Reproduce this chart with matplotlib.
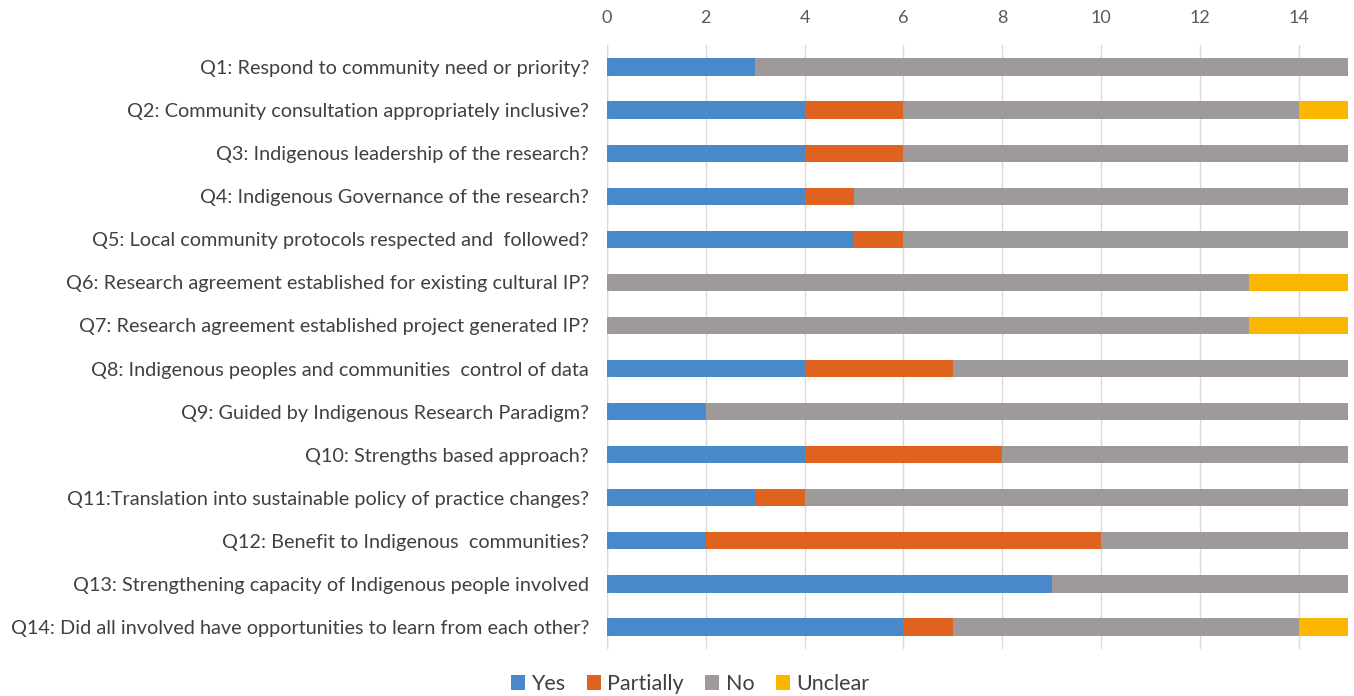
import matplotlib
matplotlib.use("Agg")
import matplotlib.pyplot as plt
import numpy as np

categories = [
    "Q1: Respond to community need or priority?",
    "Q2: Community consultation appropriately inclusive?",
    "Q3: Indigenous leadership of the research?",
    "Q4: Indigenous Governance of the research?",
    "Q5: Local community protocols respected and  followed?",
    "Q6: Research agreement established for existing cultural IP?",
    "Q7: Research agreement established project generated IP?",
    "Q8: Indigenous peoples and communities  control of data",
    "Q9: Guided by Indigenous Research Paradigm?",
    "Q10: Strengths based approach?",
    "Q11:Translation into sustainable policy of practice changes?",
    "Q12: Benefit to Indigenous  communities?",
    "Q13: Strengthening capacity of Indigenous people involved",
    "Q14: Did all involved have opportunities to learn from each other?",
]
yes = [3, 4, 4, 4, 5, 0, 0, 4, 2, 4, 3, 2, 9, 6]
partially = [0, 2, 2, 1, 1, 0, 0, 3, 0, 4, 1, 8, 0, 1]
no = [12, 8, 9, 10, 9, 13, 13, 8, 13, 7, 11, 5, 6, 7]
unclear = [0, 1, 0, 0, 0, 2, 2, 0, 0, 0, 0, 0, 0, 1]
series_names = ["Yes", "Partially", "No", "Unclear"]
colors = ["#4a89c9", "#e0621f", "#9d9a99", "#fbb700"]
xticks = [0, 2, 4, 6, 8, 10, 12, 14]

plt.rcParams['font.family'] = ['Lato', 'DejaVu Sans']
fig = plt.figure(figsize=(13.54, 6.96), dpi=100)
ax = fig.add_axes([607/1354, 1 - 648.5/696, (1348-607)/1354, (648.5-45.5)/696])

y = np.arange(len(categories))
left = np.zeros(len(categories))
handles = []
for name, vals, c in zip(series_names, [yes, partially, no, unclear], colors):
    h = ax.barh(y, vals, left=left, height=0.4, color=c, label=name, zorder=3)
    handles.append(h)
    left += np.array(vals)

ax.set_ylim(len(categories) - 0.5, -0.5)
ax.set_xlim(0, 15)
ax.set_yticks(y)
ax.set_yticklabels(categories, fontsize=14.3, color="#404040")
ax.xaxis.tick_top()
ax.set_xticks(xticks)
ax.tick_params(axis='x', labelsize=13, colors="#595959", length=0, pad=14)
ax.tick_params(axis='y', length=0, pad=13)
ax.grid(axis='x', color="#d9d9d9", linewidth=1, zorder=0)
for s in ax.spines.values():
    s.set_visible(False)
ax.axvline(0, color="#d9d9d9", linewidth=1, zorder=1)

fig.legend(handles=handles, labels=series_names, loc='center', bbox_to_anchor=(690/1354, 1 - 684/696),
           ncol=4, frameon=False, fontsize=15.5, handlelength=0.65, handleheight=0.65,
           handletextpad=0.3, columnspacing=1.0, labelcolor="#404040")

fig.savefig("out.png", dpi=100)
